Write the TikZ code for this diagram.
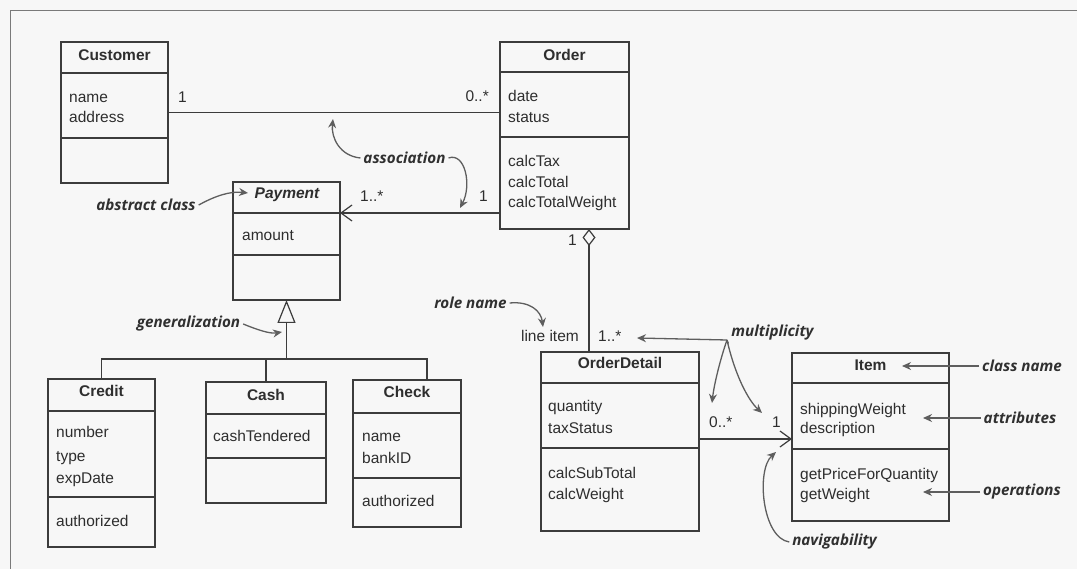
\documentclass[tikz,border=0pt]{standalone}
\usepackage{fontspec}
\setmainfont{Liberation Sans}
\newfontfamily\annfont{Open Sans}
\usetikzlibrary{arrows.meta}

\definecolor{boxline}{HTML}{3C3C3C}
\definecolor{txt}{HTML}{2E2E2E}
\definecolor{ann}{HTML}{303030}
\definecolor{annline}{HTML}{5E5E5E}
\definecolor{paper}{HTML}{F7F7F7}
\definecolor{framecol}{HTML}{7A7A7A}

\tikzset{
  classbox/.style={draw=boxline, line width=1.3pt, inner sep=0pt, outer sep=0pt, anchor=north west},
  divider/.style={draw=boxline, line width=1.3pt},
  link/.style={draw=boxline, line width=1.3pt},
  ctitle/.style={anchor=base, inner sep=0pt, text=txt,
    font=\fontsize{15.5}{18}\selectfont\bfseries},
  member/.style={anchor=base west, inner sep=0pt, text=txt,
    font=\fontsize{15.5}{18}\selectfont},
  note/.style={inner sep=0pt, outer sep=3pt, text=ann,
    font=\annfont\fontsize{15.2}{18}\selectfont\bfseries\itshape},
  pointer/.style={draw=annline, line width=1.3pt, -{Stealth[length=9pt,width=8pt]}},
  navtip/.style={-{Straight Barb[length=11pt,width=16pt,line width=1.2pt]}},
}

% class box: name, x1, y1, x2, y2, first divider, second divider
\newcommand\umlclass[7]{%
  \node[classbox, minimum width={(#4-#2)*1pt}, minimum height={(#5-#3)*1pt}] (#1) at (#2,#3) {};
  \draw[divider] (#1.west |- 0,#6) -- (#1.east |- 0,#6);
  \draw[divider] (#1.west |- 0,#7) -- (#1.east |- 0,#7);
}

\begin{document}
\begin{tikzpicture}[x=1pt, y=-1pt]
\useasboundingbox (0,0) rectangle (1077,569);
\fill[paper] (0,0) rectangle (1077,569);
\draw[framecol, line width=1.6pt] (10.5,569) -- (10.5,10.5) -- (1077,10.5);

% ---- classes ----
\umlclass{customer}{61}{42}{168}{183}{73}{138}
\umlclass{order}{500}{42}{629}{229}{72}{137}
\umlclass{payment}{233}{182}{340}{300}{213}{255}
\umlclass{credit}{48}{379}{155}{547}{411}{497}
\umlclass{cash}{206}{382}{326}{503}{414}{458}
\umlclass{check}{353}{380}{461}{527}{413}{478}
\umlclass{orderdetail}{541}{352}{699}{531}{383}{448}
\umlclass{item}{792}{353}{949}{521}{383}{449}

% Customer
\node[ctitle] (cu-t) at (114.5,61) {Customer};
\node[member] (cu-a1) at (69,103) {name};
\node[member] (cu-a2) at (69,123) {address};
% Order
\node[ctitle] (or-t) at (564.5,61) {Order};
\node[member] (or-a1) at (508,102) {date};
\node[member] (or-a2) at (508,123) {status};
\node[member] (or-o1) at (508,167) {calcTax};
\node[member] (or-o2) at (508,188) {calcTotal};
\node[member] (or-o3) at (508,208) {calcTotalWeight};
% Payment
\node[ctitle, font=\fontsize{15.5}{18}\selectfont\bfseries\itshape] (pa-t) at (287,199) {Payment};
\node[member] (pa-a1) at (242,241) {amount};
% Credit
\node[ctitle] (cr-t) at (101.5,397) {Credit};
\node[member] (cr-a1) at (56,438) {number};
\node[member] (cr-a2) at (56,461) {type};
\node[member] (cr-a3) at (56,483) {expDate};
\node[member] (cr-o1) at (56,526) {authorized};
% Cash
\node[ctitle] (ca-t) at (266,400) {Cash};
\node[member] (ca-a1) at (213,442) {cashTendered};
% Check
\node[ctitle] (ch-t) at (407,398) {Check};
\node[member] (ch-a1) at (362,441) {name};
\node[member] (ch-a2) at (362,463) {bankID};
\node[member] (ch-o1) at (362,506) {authorized};
% OrderDetail
\node[ctitle] (od-t) at (620,369) {OrderDetail};
\node[member] (od-a1) at (548,412) {quantity};
\node[member] (od-a2) at (548,433) {taxStatus};
\node[member] (od-o1) at (548,478) {calcSubTotal};
\node[member] (od-o2) at (548,499) {calcWeight};
% Item
\node[ctitle] (it-t) at (870.5,371) {Item};
\node[member] (it-a1) at (800,414) {shippingWeight};
\node[member] (it-a2) at (800,434) {description};
\node[member] (it-o1) at (800,479) {getPriceForQuantity};
\node[member] (it-o2) at (800,499) {getWeight};

% ---- relationships ----
% Customer -- Order
\draw[link] (customer.east) -- (customer.east -| order.west);
\node[member] (m-cu) at (178,103) {1};
\node[member, anchor=base east] (m-or) at (489,102) {0..*};

% Order --> Payment
\coordinate (pay-end) at (payment.east |- 0,213);
\draw[link, {Straight Barb[length=11pt,width=16pt,line width=1.2pt]}-] (pay-end) -- (pay-end -| order.west);
\node[member] (m-pa) at (360,202) {1..*};
\node[member] (m-op) at (479,202) {1};

% generalization tree
\coordinate (genbus) at (payment.south |- 0,359);
\coordinate (chk-top) at (check.north -| 427,0);
\draw[link] (credit.north) |- (chk-top |- genbus) -- (chk-top);
\draw[link] (cash.north) -- (cash.north |- genbus);
\draw[link, -{Triangle[open, length=23pt, width=18pt, fill=paper, line width=1.2pt]}] (genbus) -- (payment.south);

% Order <>-- OrderDetail
\coordinate (agg) at (order.south -| 589,0);
\draw[link, {Diamond[open, length=17pt, width=13pt, fill=paper, line width=1.2pt]}-] (agg) -- (agg |- orderdetail.north);
\node[member] (m-ag) at (568,246) {1};
\node[member, anchor=base east] (role) at (579,342) {line item};
\node[member] (m-od) at (598,342) {1..*};

% OrderDetail --> Item
\coordinate (od-end) at (orderdetail.east |- 0,439);
\draw[link, navtip] (od-end) -- (od-end -| item.west);
\node[member] (m-od2) at (709,428) {0..*};
\node[member] (m-it) at (772,428) {1};

% ---- annotations ----
\node[note] (n-assoc) at (404.5,158) {association};
\node[note] (n-abs) at (146,205) {abstract class};
\node[note] (n-gen) at (188.5,324) {generalization};
\node[note] (n-role) at (470.5,303) {role name};
\node[note] (n-mult) at (772.5,333) {multiplicity};
\node[note] (n-cls) at (1022,366) {class name};
\node[note] (n-att) at (1020,418) {attributes};
\node[note] (n-ops) at (1022,492) {operations};
\node[note] (n-nav) at (834.5,542) {navigability};

\coordinate (fork) at (727,340);
\draw[pointer] (n-assoc.west) .. controls (340,156) and (331,138) .. (333,119);
\draw[pointer] (n-assoc.east) .. controls (465,152) and (472,185) .. (460,208);
\draw[pointer] (n-abs.east) .. controls (215,196) and (230,191) .. (248,193);
\draw[pointer] (n-gen.east) .. controls (258,330) and (270,334) .. (282,332);
\draw[pointer] (n-role.east) .. controls (530,301) and (541,311) .. (543,327);
\draw[pointer] (fork) -- (637,338);
\draw[pointer] (fork) .. controls (720,360) and (714,385) .. (712,403);
\draw[pointer] (fork) .. controls (735,375) and (748,400) .. (762,413);
\draw[draw=annline, line width=1.3pt] (n-mult.south west) -- (fork);
\draw[pointer] (n-cls.west) -- (902,366);
\draw[pointer] (n-att.west) -- (923,418);
\draw[pointer] (n-ops.west) -- (923,492);
\draw[pointer] (n-nav.west) .. controls (762,538) and (756,470) .. (776,452);
\end{tikzpicture}
\end{document}
